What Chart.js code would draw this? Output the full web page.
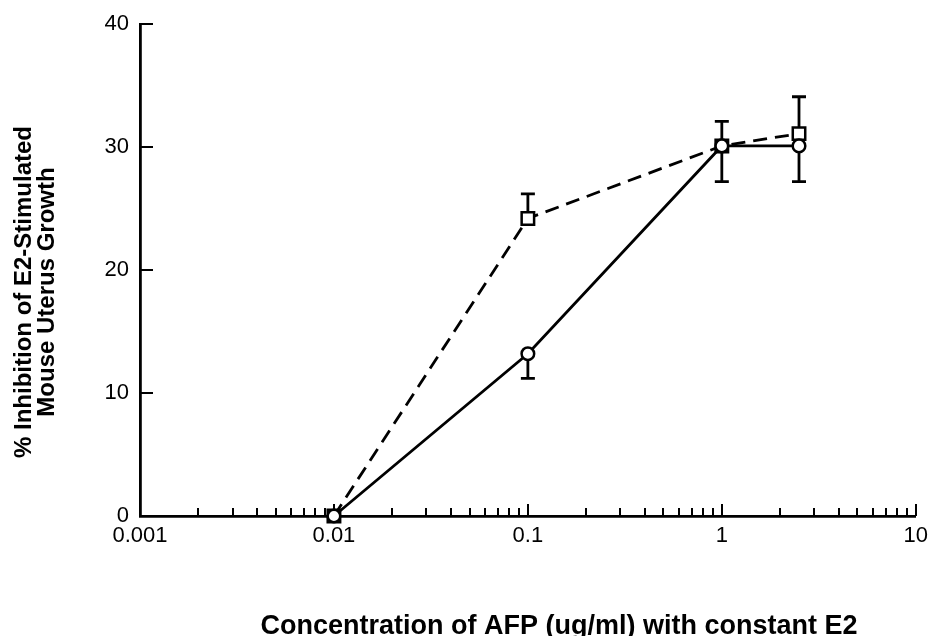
<!DOCTYPE html>
<html>
<head>
<meta charset="utf-8">
<script src="https://cdn.jsdelivr.net/npm/chart.js@4.4.0/dist/chart.umd.min.js"></script>
<style>
  html, body { margin: 0; padding: 0; background: #fff; }
</style>
</head>
<body>
<canvas id="afpChart" width="935" height="636"></canvas>
<script>
// concentration of AFP (ug/ml)
var concentrations = [0.01, 0.1, 1, 2.5];
// circles, solid line
var circleValues = [0, 13.2, 30.1, 30.1];
var circleErrDown = [0, 2, 2.9, 2.9];
// squares, dashed line
var squareValues = [0, 24.2, 30.1, 31.1];
var squareErrUp = [0, 2, 2, 3];

var xDecades = [0.001, 0.01, 0.1, 1, 10];
var xTickLabels = ['0.001', '0.01', '0.1', '1', '10'];
var yTickValues = [0, 10, 20, 30, 40];
var yTickLabels = ['0', '10', '20', '30', '40'];

var xTitle = 'Concentration of AFP (ug/ml) with constant E2';
var yTitle = ['% Inhibition of E2-Stimulated', 'Mouse Uterus Growth'];

function toPoints(xs, ys) {
  var pts = [];
  for (var i = 0; i < xs.length; i++) pts.push({ x: xs[i], y: ys[i] });
  return pts;
}

// log ticks: each decade plus 2..9 in between
var xTickValues = [];
for (var d = 0; d < xDecades.length; d++) {
  xTickValues.push(xDecades[d]);
  if (d < xDecades.length - 1) {
    for (var m = 2; m <= 9; m++) xTickValues.push(+(xDecades[d] * m).toPrecision(3));
  }
}

//ticks pointing into the plot, like the original
var inwardTicks = {
  id: 'inwardTicks',
  beforeDatasetsDraw(chart) {
    var ctx = chart.ctx, x = chart.scales.x, y = chart.scales.y;
    var area = chart.chartArea;
    ctx.save();
    ctx.strokeStyle = '#000';
    ctx.lineWidth = 2;
    x.ticks.forEach(function (t) {
      var px = Math.round(x.getPixelForValue(t.value));
      var len = xDecades.indexOf(t.value) >= 0 ? 12 : 8;
      ctx.beginPath();
      ctx.moveTo(px, area.bottom);
      ctx.lineTo(px, area.bottom - len);
      ctx.stroke();
    });
    y.ticks.forEach(function (t) {
      if (t.value === 0) return;
      var py = Math.round(y.getPixelForValue(t.value));
      ctx.beginPath();
      ctx.moveTo(area.left, py);
      ctx.lineTo(area.left + 13, py);
      ctx.stroke();
    });
    ctx.restore();
  }
};

var errorBars = {
  id: 'errorBars',
  beforeDatasetsDraw(chart) {
    var ctx = chart.ctx, x = chart.scales.x, y = chart.scales.y;
    ctx.save();
    ctx.strokeStyle = '#000';
    ctx.lineWidth = 2.8;
    function bar(xv, from, to) {
      if (from === to) return;
      var px = x.getPixelForValue(xv);
      var p1 = y.getPixelForValue(from), p2 = y.getPixelForValue(to);
      ctx.beginPath();
      ctx.moveTo(px, p1);
      ctx.lineTo(px, p2);
      ctx.moveTo(px - 7, p2);
      ctx.lineTo(px + 7, p2);
      ctx.stroke();
    }
    for (var i = 0; i < concentrations.length; i++) {
      bar(concentrations[i], squareValues[i], squareValues[i] + squareErrUp[i]);
      bar(concentrations[i], circleValues[i], circleValues[i] - circleErrDown[i]);
    }
    ctx.restore();
  }
};

// axis titles sit off-centre in the scan, so they're placed by hand
var axisTitles = {
  id: 'axisTitles',
  afterDraw(chart) {
    var ctx = chart.ctx;
    ctx.save();
    ctx.fillStyle = '#000';
    ctx.textAlign = 'center';
    ctx.font = 'bold 27px "Liberation Sans", Arial, sans-serif';
    ctx.textBaseline = 'alphabetic';
    ctx.fillText(xTitle, 559, 634);
    ctx.translate(0, 292);
    ctx.rotate(-Math.PI / 2);
    ctx.font = 'bold 24px "Liberation Sans", Arial, sans-serif';
    ctx.textBaseline = 'middle';
    ctx.fillText(yTitle[0], 0, 24);
    ctx.fillText(yTitle[1], 0, 47);
    ctx.restore();
  }
};

var myChart = new Chart(document.getElementById('afpChart').getContext('2d'), {
  type: 'line',
  data: {
    datasets: [{
      label: 'circles',
      data: toPoints(concentrations, circleValues),
      borderColor: '#000',
      borderWidth: 2.8,
      pointStyle: 'circle',
      pointRadius: 6.3,
      pointBorderWidth: 2.5,
      pointBackgroundColor: '#fff',
      pointBorderColor: '#000',
      fill: false,
      tension: 0,
      clip: false,
      order: 0
    }, {
      label: 'squares',
      data: toPoints(concentrations, squareValues),
      borderColor: '#000',
      borderWidth: 2.8,
      borderDash: [14, 8],
      pointStyle: 'rect',
      pointRadius: 8.8,
      pointBorderWidth: 2.5,
      pointBackgroundColor: '#fff',
      pointBorderColor: '#000',
      fill: false,
      tension: 0,
      clip: false,
      order: 1
    }]
  },
  options: {
    responsive: false,
    animation: false,
    layout: { padding: { top: 21, right: 19, left: 0, bottom: 0 } },
    plugins: {
      legend: { display: false },
      tooltip: { enabled: false }
    },
    scales: {
      x: {
        type: 'logarithmic',
        min: 0.001,
        max: 10,
        afterBuildTicks: function (scale) {
          scale.ticks = xTickValues.map(function (v) { return { value: v }; });
        },
        afterFit: function (scale) { scale.height = 120; },
        grid: { display: false, drawTicks: false },
        border: { display: true, color: '#000', width: 2.8 },
        ticks: {
          autoSkip: false,
          maxRotation: 0,
          padding: 7,
          color: '#000',
          font: { family: 'Liberation Sans', size: 22 },
          callback: function (value) {
            var i = xDecades.indexOf(value);
            return i >= 0 ? xTickLabels[i] : '';
          }
        }
      },
      y: {
        min: 0,
        max: 40,
        afterBuildTicks: function (scale) {
          scale.ticks = yTickValues.map(function (v) { return { value: v }; });
        },
        afterFit: function (scale) { scale.width = 140; },
        grid: { display: false, drawTicks: false },
        border: { display: true, color: '#000', width: 2.8 },
        ticks: {
          padding: 11,
          color: '#000',
          font: { family: 'Liberation Sans', size: 22 },
          callback: function (value) {
            var i = yTickValues.indexOf(value);
            return i >= 0 ? yTickLabels[i] : '';
          }
        }
      }
    }
  },
  plugins: [inwardTicks, errorBars, axisTitles]
});
</script>
</body>
</html>
